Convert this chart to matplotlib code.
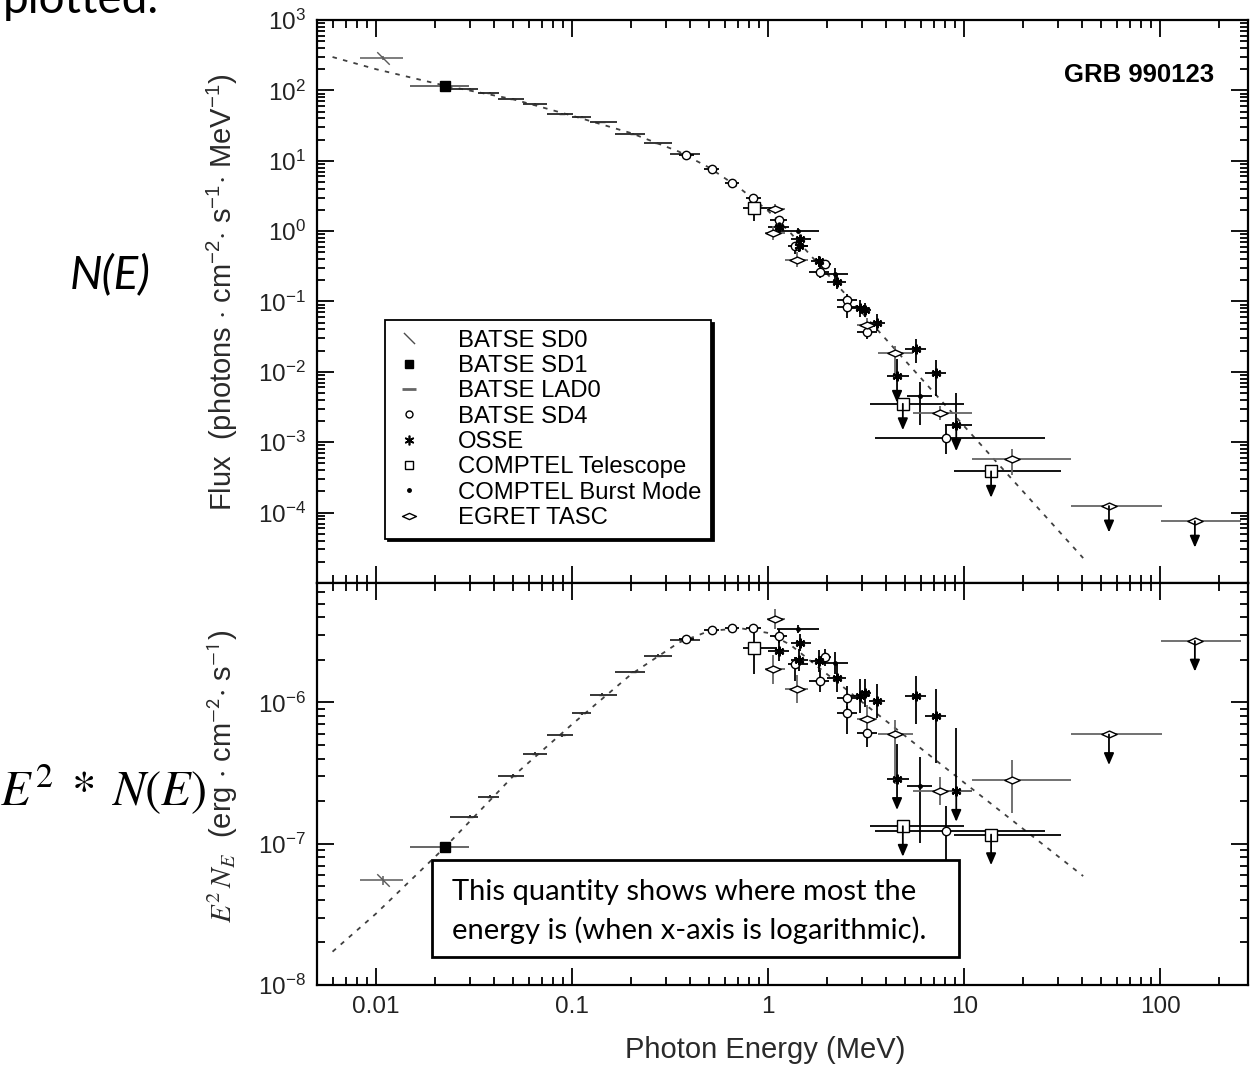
import numpy as np
import matplotlib
matplotlib.use("Agg")
import matplotlib.pyplot as plt
from matplotlib import ticker
from matplotlib.lines import Line2D
from matplotlib.path import Path
from matplotlib.patches import Rectangle

plt.rcParams['font.family'] = ['Liberation Sans', 'DejaVu Sans']
plt.rcParams['mathtext.fontset'] = 'custom'
plt.rcParams['mathtext.rm'] = 'Liberation Sans'
plt.rcParams['mathtext.it'] = 'Liberation Sans:italic'
plt.rcParams['mathtext.bf'] = 'Liberation Sans:bold'
plt.rcParams['axes.unicode_minus'] = False

# ==== data (energy in MeV; flux = N(E) upper panel, nufnu = E^2 N_E lower panel) ====
sd0_e = [0.0109]
sd0_lo = [0.0083]
sd0_hi = [0.0138]
sd0_flux = [288]
sd0_nufnu = [5.5e-8]

sd1_e = [0.0224]
sd1_lo = [0.0149]
sd1_hi = [0.0298]
sd1_flux = [117]
sd1_nufnu = [9.4e-8]

lad_e = [0.0302, 0.0382, 0.0502, 0.0648, 0.0886, 0.112, 0.1417, 0.2055, 0.2757, 0.370]
lad_lo = [0.0237, 0.0330, 0.0418, 0.0562, 0.0742, 0.0999, 0.123, 0.166, 0.233, 0.316]
lad_hi = [0.0333, 0.0426, 0.0568, 0.0747, 0.101, 0.125, 0.169, 0.236, 0.323, 0.45]
lad_flux = [106, 92.0, 75.1, 64.4, 46.6, 41.6, 35.3, 24.2, 17.6, 12.5]
lad_nufnu = [1.55e-7, 2.15e-7, 3.03e-7, 4.33e-7, 5.86e-7, 8.36e-7, 1.135e-6, 1.64e-6, 2.14e-6, 2.75e-6]

sd4_e = [0.383, 0.516, 0.655, 0.841, 1.13, 1.37, 1.95, 1.84, 2.52, 2.52, 3.19, 8.1]
sd4_lo = [0.35, 0.47, 0.60, 0.77, 1.02, 1.26, 1.80, 1.62, 2.25, 2.25, 2.85, 3.51]
sd4_hi = [0.42, 0.56, 0.71, 0.92, 1.25, 1.60, 2.10, 2.05, 2.85, 2.85, 3.60, 25.9]
sd4_flux = [11.9, 7.6, 4.87, 2.97, 1.44, 0.619, 0.341, 0.262, 0.106, 0.0831, 0.0374, 1.16e-3]
sd4_nufnu = [2.80e-6, 3.24e-6, 3.35e-6, 3.37e-6, 2.95e-6, 1.86e-6, 2.08e-6, 1.42e-6, 1.08e-6, 8.45e-7, 6.1e-7, 1.22e-7]
sd4_dlo = [0.02, 0.02, 0.02, 0.02, 0.05, 0.12, 0.06, 0.08, 0.08, 0.15, 0.10, 0.235]
sd4_dhi = [0.02, 0.02, 0.02, 0.02, 0.05, 0.05, 0.06, 0.08, 0.08, 0.05, 0.10, 0.178]

osse_e = [1.13, 1.46, 1.43, 1.81, 2.24, 2.94, 3.58, 3.12, 5.69, 7.2, 4.54, 9.1]
osse_lo = [1.0, 1.30, 1.30, 1.65, 2.0, 2.65, 3.25, 2.9, 5.0, 6.3, 4.04, 8.0]
osse_hi = [1.27, 1.65, 1.60, 2.0, 2.5, 3.25, 3.95, 3.35, 6.4, 8.1, 5.2, 10.9]
osse_flux = [1.13, 0.776, 0.61, 0.373, 0.187, 0.0802, 0.0497, 0.075, 0.0214, 9.63e-3, 8.63e-3, 1.77e-3]
osse_nufnu = [2.31e-6, 2.65e-6, 2.0e-6, 1.96e-6, 1.50e-6, 1.11e-6, 1.02e-6, 1.17e-6, 1.11e-6, 8.0e-7, 2.85e-7, 2.35e-7]
osse_dlo = [0.07, 0.06, 0.08, 0.08, 0.10, 0.12, 0.12, 0.10, 0.20, 0.33, 0, 0]
osse_dhi = [0.07, 0.06, 0.08, 0.08, 0.10, 0.12, 0.12, 0.10, 0.14, 0.19, 0.25, 0.45]
osse_ul = [False] * 10 + [True, True]

comptel_e = [0.847, 4.86, 13.7]
comptel_lo = [0.745, 3.3, 8.9]
comptel_hi = [1.11, 10.0, 31.2]
comptel_flux = [2.10, 3.52e-3, 3.86e-4]
comptel_nufnu = [2.41e-6, 1.33e-7, 1.16e-7]
comptel_dlo = [0.18, 0, 0]
comptel_dhi = [0.15, 0, 0]
comptel_ul = [False, True, True]

burst_e = [1.42, 2.2, 5.97]
burst_lo = [1.11, 1.9, 5.1]
burst_hi = [1.81, 2.55, 6.84]
burst_flux = [1.02, 0.245, 4.47e-3]
burst_nufnu = [3.3e-6, 1.9e-6, 2.55e-7]
burst_dlo = [0.03, 0.08, 0.40]
burst_dhi = [0.03, 0.08, 0.21]

egret_e = [1.086, 1.064, 1.40, 3.19, 4.45, 7.48, 17.5, 54.7, 150]
egret_lo = [0.985, 0.965, 1.22, 2.85, 3.64, 5.5, 11.0, 35.2, 100.7]
egret_hi = [1.22, 1.22, 1.60, 3.60, 5.5, 10.9, 35.2, 102, 259]
egret_flux = [2.05, 0.943, 0.395, 0.0464, 0.0187, 2.62e-3, 5.73e-4, 1.24e-4, 7.55e-5]
egret_nufnu = [3.88e-6, 1.71e-6, 1.24e-6, 7.57e-7, 5.93e-7, 2.35e-7, 2.81e-7, 5.93e-7, 2.72e-6]
egret_dlo = [0.07, 0.10, 0.10, 0.10, 0.35, 0.10, 0.23, 0, 0]
egret_dhi = [0.07, 0.10, 0.10, 0.10, 0.10, 0.10, 0.146, 0, 0]
egret_ul = [False] * 7 + [True, True]

# Band-function fit
model_e = [0.006, 0.01, 0.0224, 0.05, 0.1, 0.2, 0.35, 0.5, 0.72, 1.0, 1.3, 2.0, 3.0, 4.76, 10, 20, 40.4]
model_flux = [298, 200, 117, 74.9, 43.7, 24.7, 13.5, 7.99, 4.03, 1.935, 0.942, 0.2466, 0.0700,
              0.0168, 1.685e-3, 1.98e-4, 2.26e-5]
model_nufnu = [1.72e-8, 3.2e-8, 9.4e-8, 3.0e-7, 7.0e-7, 1.58e-6, 2.65e-6, 3.2e-6, 3.35e-6, 3.1e-6,
               2.55e-6, 1.58e-6, 1.01e-6, 6.1e-7, 2.7e-7, 1.27e-7, 5.9e-8]

legend_labels = ["BATSE SD0", "BATSE SD1", "BATSE LAD0", "BATSE SD4", "OSSE",
                 "COMPTEL Telescope", "COMPTEL Burst Mode", "EGRET TASC"]

# ==== markers ====
slash_marker = Path([(-1, 1), (1, -1)], [Path.MOVETO, Path.LINETO])
egret_marker = Path([(-1, 0), (0, 0.45), (1, 0), (0, -0.45), (-1, 0)],
                    [Path.MOVETO, Path.LINETO, Path.LINETO, Path.LINETO, Path.CLOSEPOLY])


def draw_set(ax, e, lo, hi, y, dlo, dhi, ul, arrow_len, marker, ms, mfc="white",
             mec="black", ecolor="black", mew=1.0):
    e = np.asarray(e, float)
    y = np.asarray(y, float)
    n = len(e)
    dlo = np.zeros(n) if dlo is None else np.asarray(dlo, float)
    dhi = np.zeros(n) if dhi is None else np.asarray(dhi, float)
    ul = [False] * n if ul is None else ul
    xerr = [e - np.asarray(lo), np.asarray(hi) - e]
    yerr = [y - y * 10 ** (-dlo), y * 10 ** dhi - y]
    ax.errorbar(e, y, xerr=xerr, yerr=yerr, fmt="none", ecolor=ecolor,
                elinewidth=1.3, capsize=0, zorder=3)
    ax.plot(e, y, ls="none", marker=marker, ms=ms, mfc=mfc, mec=mec, mew=mew, zorder=4)
    for xi, yi, u in zip(e, y, ul):
        if u:
            ax.annotate("", xy=(xi, yi), xytext=(0, -arrow_len), textcoords="offset points",
                        arrowprops=dict(arrowstyle="<|-,head_length=0.7,head_width=0.3",
                                        color="black", lw=1.3, shrinkA=0, shrinkB=0),
                        zorder=4)


def draw_all(ax, key, arrow_len):
    pick = {"flux": 0, "nufnu": 1}[key]
    ax.plot(model_e, (model_flux, model_nufnu)[pick], ls=(0, (2.5, 3.5)), color="0.25", lw=1.3, zorder=2)
    draw_set(ax, sd0_e, sd0_lo, sd0_hi, (sd0_flux, sd0_nufnu)[pick], [0.03], [0.03], None,
             arrow_len, slash_marker, 9, mfc="none", mec="0.35", ecolor="0.45")
    draw_set(ax, sd1_e, sd1_lo, sd1_hi, (sd1_flux, sd1_nufnu)[pick], [0.02], [0.02], None,
             arrow_len, "s", 6.5, mfc="black", ecolor="0.35")
    draw_set(ax, lad_e, lad_lo, lad_hi, (lad_flux, lad_nufnu)[pick], [0.01] * 10, [0.01] * 10, None,
             arrow_len, "_", 4, mec="0.2", ecolor="0.15")
    draw_set(ax, sd4_e, sd4_lo, sd4_hi, (sd4_flux, sd4_nufnu)[pick], sd4_dlo, sd4_dhi, None,
             arrow_len, "o", 6)
    draw_set(ax, osse_e, osse_lo, osse_hi, (osse_flux, osse_nufnu)[pick], osse_dlo, osse_dhi, osse_ul,
             arrow_len, (6, 2, 0), 7, mew=1.6)
    draw_set(ax, comptel_e, comptel_lo, comptel_hi, (comptel_flux, comptel_nufnu)[pick],
             comptel_dlo, comptel_dhi, comptel_ul, arrow_len, "s", 8)
    draw_set(ax, burst_e, burst_lo, burst_hi, (burst_flux, burst_nufnu)[pick], burst_dlo, burst_dhi, None,
             arrow_len, "o", 2.5, mfc="black")
    draw_set(ax, egret_e, egret_lo, egret_hi, (egret_flux, egret_nufnu)[pick], egret_dlo, egret_dhi,
             egret_ul, arrow_len, egret_marker, 11, ecolor="0.4")


# ==== figure ====
fig = plt.figure(figsize=(12.6, 10.76), dpi=100)
ax1 = fig.add_axes([0.2516, 0.4582, 0.7389, 0.5232])
ax2 = fig.add_axes([0.2516, 0.0846, 0.7389, 0.3736])

draw_all(ax1, "flux", 19)
draw_all(ax2, "nufnu", 22)

for ax in (ax1, ax2):
    ax.set_xscale("log")
    ax.set_yscale("log")
    ax.set_xlim(0.005, 280)
    ax.xaxis.set_major_locator(ticker.FixedLocator([0.01, 0.1, 1, 10, 100]))
    ax.xaxis.set_minor_locator(ticker.LogLocator(base=10, subs=np.arange(2, 10), numticks=20))
    ax.xaxis.set_minor_formatter(ticker.NullFormatter())
    ax.yaxis.set_minor_locator(ticker.LogLocator(base=10, subs=np.arange(2, 10), numticks=20))
    ax.yaxis.set_minor_formatter(ticker.NullFormatter())
    ax.tick_params(which="both", direction="in", top=True, right=True, labelsize=17.5,
                   width=1.3, colors="black", labelcolor="#222222")
    ax.tick_params(which="major", length=12, pad=8)
    ax.tick_params(which="minor", length=6)
    for sp in ax.spines.values():
        sp.set_linewidth(1.6)

ax1.set_ylim(1e-5, 1e3)
ax1.yaxis.set_major_locator(ticker.FixedLocator([1e-4, 1e-3, 1e-2, 1e-1, 1, 10, 100, 1000]))
ax1.xaxis.set_major_formatter(ticker.NullFormatter())

ax2.set_ylim(1e-8, 7e-6)
ax2.yaxis.set_major_locator(ticker.FixedLocator([1e-8, 1e-7, 1e-6]))
ax2.xaxis.set_major_formatter(ticker.FuncFormatter(lambda v, _: f"{v:g}"))

ax1.set_ylabel(r"Flux  (photons $\cdot$ cm$^{-2}$$\cdot$ s$^{-1}$$\cdot$ MeV$^{-1}$)",
               fontsize=21, color="#2a2a2a")
ax1.yaxis.set_label_coords(-0.083, 0.517)
ax2.set_ylabel(r"$E^2\,N_E$  (erg $\cdot$ cm$^{\mathsf{-2}}$$\cdot$ s$^{\mathsf{-1}}$)",
               fontsize=21, color="#2a2a2a", math_fontfamily="stix")
ax2.yaxis.set_label_coords(-0.083, 0.52)
ax2.set_xlabel("Photon Energy (MeV)", fontsize=21, color="#2a2a2a")
ax2.xaxis.set_label_coords(0.481, -0.128)

ax1.text(0.883, 0.902, "GRB 990123", transform=ax1.transAxes, ha="center", va="center",
         fontsize=18.5, fontweight="bold")

# ==== legend ====
handles = [
    Line2D([], [], ls="none", marker=slash_marker, ms=8, mfc="none", mec="0.3", mew=1.0),
    Line2D([], [], ls="none", marker="s", ms=6, mfc="black", mec="black"),
    Line2D([], [], ls="none", marker="_", ms=10, mec="0.4", mew=2),
    Line2D([], [], ls="none", marker="o", ms=5, mfc="white", mec="black"),
    Line2D([], [], ls="none", marker=(6, 2, 0), ms=7, mec="black", mew=1.2),
    Line2D([], [], ls="none", marker="s", ms=6, mfc="white", mec="black"),
    Line2D([], [], ls="none", marker="o", ms=2.5, mfc="black", mec="black"),
    Line2D([], [], ls="none", marker=egret_marker, ms=10, mfc="white", mec="black"),
]
leg = ax1.legend(handles, legend_labels, loc="upper left", bbox_to_anchor=(0.073, 0.467),
                 borderaxespad=0, fontsize=17.2, frameon=True, fancybox=False,
                 shadow={"color": "black", "alpha": 1}, edgecolor="black", framealpha=1,
                 handlelength=1.2, handletextpad=1.45, labelspacing=0.14, borderpad=0.4)
leg.get_frame().set_linewidth(1.3)

# ==== slide annotations ====
fig.text(0.002, 1 - 13 / 1076, "plotted.", fontsize=33, family=["Lato", "DejaVu Sans"],
         ha="left", va="baseline")
fig.text(70 / 1260, 1 - 275 / 1076, "N(E)", fontsize=33, style="italic", family=["Lato", "DejaVu Sans"],
         ha="left", va="center")
fig.text(0.0, 1 - 790 / 1076, r"$E^2\;*\;N(E)$", fontsize=35, math_fontfamily="stix",
         ha="left", va="center")

fig.patches.append(Rectangle((432 / 1260, 1 - 957 / 1076), (959 - 432) / 1260, (957 - 860) / 1076,
                             transform=fig.transFigure, facecolor="white", edgecolor="black",
                             lw=2, zorder=10))
fig.text(452 / 1260, 1 - 900 / 1076, "This quantity shows where most the", fontsize=21,
         family=["Lato", "DejaVu Sans"], ha="left", va="baseline", zorder=11)
fig.text(452 / 1260, 1 - 939 / 1076, "energy is (when x-axis is logarithmic).", fontsize=21,
         family=["Lato", "DejaVu Sans"], ha="left", va="baseline", zorder=11)

fig.savefig("out.png", dpi=100)
plt.close(fig)
